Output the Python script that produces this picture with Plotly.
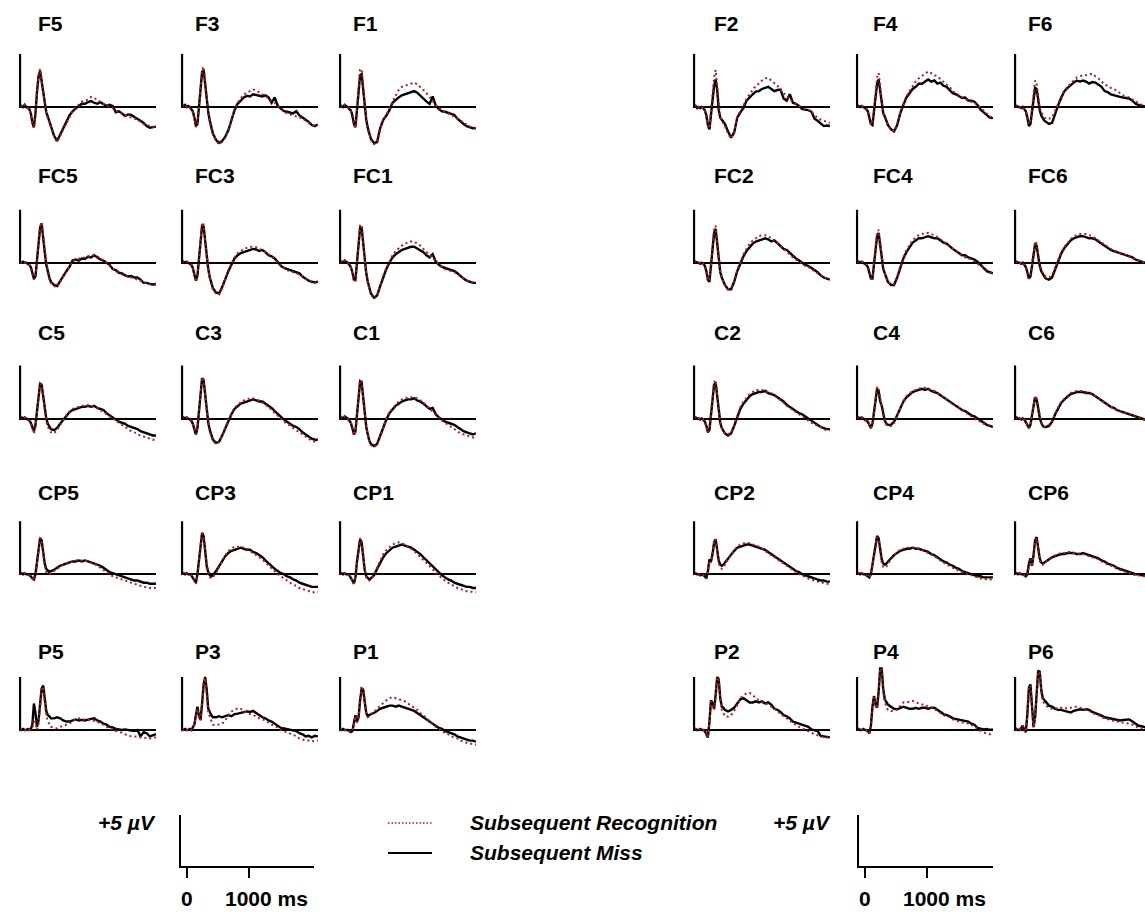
import plotly.graph_objects as go

# ---------------- time axis (ms) ----------------
T = [-100, -75, -50, -25, 0, 25, 50, 75, 100, 125, 150, 175, 200, 225, 250, 275, 300, 325, 350, 375, 400,
     450, 500, 550, 600, 650, 700, 750, 800, 850, 900, 950, 1000, 1050, 1100, 1150, 1200, 1250, 1300, 1350,
     1400, 1450, 1500, 1550, 1600, 1650, 1700, 1750, 1800, 1850, 1900, 1950, 2000, 2050, 2100]

# ---------------- amplitudes (µV), rec = Subsequent Recognition, miss = Subsequent Miss ----------------
F5_miss = [0.0, 0.1, 0.0, 0.2, 0.0, -0.1, -0.2, -0.6, -1.5, -1.9, -0.6, 1.4, 2.9, 3.4, 2.5, 1.3, 0.3, -0.5, -0.9, -1.3, -1.8,
           -2.7, -3.2, -2.6, -2.1, -1.5, -0.8, -0.4, -0.1, 0.1, 0.3, 0.3, 0.45, 0.55, 0.4, 0.3, 0.45, 0.3, 0.1, 0.2, 0.1,
           -0.5, -0.4, -0.6, -0.85, -0.7, -0.75, -0.95, -1.1, -1.3, -1.5, -1.8, -1.95, -1.9, -1.85]
F5_rec = [0.0, 0.1, 0.0, 0.2, 0.0, -0.1, -0.2, -0.7, -1.6, -2.0, -0.7, 1.4, 3.0, 3.6, 2.6, 1.3, 0.2, -0.6, -1.0, -1.4, -1.9,
          -2.8, -3.3, -2.7, -2.1, -1.5, -0.9, -0.4, 0.0, 0.2, 0.5, 0.6, 0.7, 0.95, 0.8, 0.7, 0.45, 0.3, 0.1, 0.0, -0.1,
          -0.3, -0.5, -0.6, -0.8, -0.9, -1.0, -1.1, -1.2, -1.4, -1.6, -1.7, -1.8, -1.9, -1.95]
F3_miss = [0.0, 0.1, 0.2, 0.0, 0.1, 0.0, -0.2, -0.4, -1.0, -1.8, -1.6, 0.0, 2.0, 3.3, 3.5, 2.0, 0.5, -0.5, -1.3, -2.0, -2.5,
           -3.1, -3.4, -3.2, -2.8, -2.2, -1.2, -0.3, 0.3, 0.6, 0.9, 1.05, 1.0, 1.2, 1.15, 1.05, 1.0, 1.1, 0.9, 0.4, 0.9,
           0.1, -0.2, -0.4, -0.45, -0.5, -0.6, -0.4, -0.8, -1.0, -1.2, -1.4, -1.7, -1.8, -1.65]
F3_rec = [0.0, 0.1, 0.2, 0.0, 0.1, 0.0, -0.2, -0.5, -1.1, -1.9, -1.7, 0.0, 2.1, 3.5, 3.8, 2.1, 0.5, -0.6, -1.4, -2.1, -2.6,
          -3.2, -3.5, -3.3, -2.9, -2.2, -1.1, -0.2, 0.4, 0.8, 1.2, 1.35, 1.5, 1.65, 1.55, 1.4, 1.2, 1.0, 0.8, 0.6, 0.4,
          0.1, -0.2, -0.4, -0.6, -0.7, -0.8, -0.9, -1.0, -1.1, -1.3, -1.5, -1.7, -1.75, -1.7]
F1_miss = [0.0, 0.1, 0.0, 0.2, 0.1, 0.0, -0.2, -0.3, -0.8, -1.6, -1.9, -0.2, 1.8, 3.0, 3.1, 1.6, 0.0, -1.2, -2.0, -2.6, -3.0,
           -3.4, -3.3, -2.0, -1.2, -0.8, -0.3, 0.4, 0.7, 0.9, 1.1, 1.2, 1.3, 1.35, 1.5, 1.35, 1.1, 0.8, 0.5, 0.3, 1.0,
           0.1, -0.2, -0.4, -0.45, -0.55, -0.6, -0.75, -1.1, -1.4, -1.6, -1.8, -1.9, -2.0, -2.0]
F1_rec = [0.0, 0.1, 0.0, 0.2, 0.1, 0.0, -0.2, -0.4, -0.9, -1.7, -2.0, -0.2, 2.0, 3.5, 3.6, 1.7, 0.0, -1.3, -2.1, -2.7, -3.1,
          -3.5, -3.4, -2.1, -1.2, -0.7, -0.2, 0.5, 1.0, 1.6, 1.9, 2.0, 2.1, 2.2, 2.3, 2.15, 1.9, 1.6, 1.3, 0.9, 0.55,
          0.2, -0.1, -0.3, -0.5, -0.6, -0.8, -0.9, -1.1, -1.3, -1.5, -1.7, -1.85, -1.9, -2.0]
F2_miss = [0.0, 0.1, -0.1, 0.0, -0.1, 0.0, -0.1, -0.3, -0.8, -1.7, -2.1, -0.8, 0.8, 2.0, 2.6, 1.6, -0.3, -1.0, -1.2, -1.35, -1.6,
           -2.3, -2.9, -2.4, -1.0, -0.5, -0.1, 0.6, 0.95, 1.2, 1.45, 1.5, 1.7, 1.8, 1.9, 1.7, 1.5, 1.6, 1.65, 0.8, 0.6,
           1.2, 0.4, 0.3, 0.1, -0.2, -0.25, -0.3, -0.45, -1.1, -1.3, -1.6, -1.8, -1.75, -1.8]
F2_rec = [0.0, 0.1, -0.1, 0.0, -0.1, 0.0, -0.1, -0.3, -0.8, -1.7, -2.0, -0.6, 1.2, 2.8, 3.5, 2.0, -0.1, -1.0, -1.3, -1.5, -1.8,
          -2.5, -3.0, -2.3, -0.9, -0.4, 0.1, 0.8, 1.15, 1.6, 2.0, 2.2, 2.5, 2.7, 2.75, 2.5, 2.3, 2.0, 1.6, 1.3, 1.0,
          0.8, 0.45, 0.3, 0.1, -0.1, -0.2, -0.3, -0.4, -0.8, -1.0, -1.2, -1.3, -1.4, -1.5]
F4_miss = [0.0, 0.1, 0.0, 0.1, 0.0, -0.1, -0.2, -0.4, -0.9, -1.6, -1.7, -0.5, 1.0, 2.2, 2.6, 1.5, 0.2, -0.6, -0.9, -1.3, -1.7,
           -2.1, -2.3, -1.7, -0.6, 0.2, 0.9, 1.3, 1.7, 1.9, 2.2, 2.2, 2.4, 2.6, 2.4, 2.5, 2.2, 2.3, 2.0, 1.9, 1.6,
           1.3, 1.2, 1.0, 0.85, 0.9, 0.6, 0.6, 0.5, 0.2, -0.25, -0.5, -0.8, -1.0, -1.05]
F4_rec = [0.0, 0.1, 0.0, 0.1, 0.0, -0.1, -0.2, -0.4, -0.9, -1.6, -1.6, -0.3, 1.4, 2.8, 3.2, 1.8, 0.3, -0.5, -0.9, -1.3, -1.7,
          -2.1, -2.3, -1.6, -0.5, 0.3, 1.0, 1.5, 2.0, 2.4, 2.7, 2.9, 3.1, 3.35, 3.2, 3.0, 2.9, 2.6, 2.3, 2.1, 1.9,
          1.5, 1.3, 1.1, 0.9, 0.8, 0.6, 0.5, 0.4, 0.2, -0.1, -0.4, -0.7, -0.9, -1.0]
F6_miss = [0.0, 0.1, 0.0, 0.0, -0.1, 0.0, -0.2, -0.4, -1.0, -1.8, -1.6, -0.4, 0.9, 1.8, 1.7, 0.6, -0.3, -0.8, -1.1, -1.3, -1.4,
           -1.6, -1.5, -0.6, 0.2, 0.9, 1.5, 1.8, 2.1, 2.3, 2.5, 2.4, 2.5, 2.4, 2.2, 2.35, 2.3, 2.1, 1.9, 1.5, 1.4,
           1.2, 1.1, 1.0, 0.95, 0.9, 0.85, 0.8, 0.6, 0.3, 0.2, 0.15, 0.1, 0.0, -0.1]
F6_rec = [0.0, 0.1, 0.0, 0.0, -0.1, 0.0, -0.2, -0.4, -0.9, -1.6, -1.3, 0.0, 1.5, 2.5, 2.2, 0.9, -0.1, -0.5, -0.8, -1.0, -1.1,
          -1.1, -1.0, -0.3, 0.4, 1.0, 1.6, 1.9, 2.2, 2.5, 2.8, 2.9, 3.0, 3.0, 3.1, 3.15, 2.9, 2.7, 2.4, 2.1, 2.0,
          1.8, 1.7, 1.5, 1.3, 1.1, 1.0, 0.9, 0.7, 0.5, 0.35, 0.2, 0.1, 0.0, -0.1]

FC5_miss = [0.0, 0.0, 0.1, 0.0, 0.0, -0.1, -0.2, -0.4, -0.9, -1.5, -1.3, 0.2, 2.0, 3.3, 3.7, 2.6, 1.0, -0.2, -0.9, -1.4, -1.8,
            -2.1, -2.2, -1.7, -1.3, -0.8, -0.4, 0.2, 0.3, 0.2, 0.4, 0.35, 0.55, 0.5, 0.7, 0.5, 0.3, 0.2, 0.0, -0.2, -0.6,
            -0.7, -0.95, -1.0, -1.2, -1.3, -1.25, -1.4, -1.4, -1.6, -1.9, -1.9, -2.0, -2.05, -2.0]
FC5_rec = [0.0, 0.0, 0.1, 0.0, 0.0, -0.1, -0.2, -0.4, -1.0, -1.6, -1.3, 0.2, 2.1, 3.4, 3.8, 2.6, 0.9, -0.3, -1.0, -1.5, -1.9,
           -2.2, -2.35, -1.8, -1.3, -0.8, -0.3, 0.1, 0.3, 0.35, 0.45, 0.5, 0.6, 0.7, 0.75, 0.6, 0.4, 0.2, 0.0, -0.3, -0.55,
           -0.8, -1.0, -1.1, -1.2, -1.3, -1.35, -1.45, -1.55, -1.7, -1.85, -1.95, -2.05, -2.1, -2.1]
FC3_miss = [0.0, 0.1, 0.0, 0.1, 0.0, -0.1, -0.2, -0.5, -1.1, -1.7, -1.2, 0.5, 2.3, 3.5, 3.4, 2.1, 0.5, -0.6, -1.4, -2.0, -2.4,
            -2.8, -2.9, -2.3, -1.5, -0.8, -0.2, 0.4, 0.7, 0.9, 1.0, 1.1, 1.2, 1.3, 1.25, 1.1, 1.2, 1.0, 0.7, 0.6, 0.4,
            0.0, -0.3, -0.5, -0.6, -0.7, -0.8, -0.9, -1.0, -1.3, -1.5, -1.7, -1.8, -1.85, -1.8]
FC3_rec = [0.0, 0.1, 0.0, 0.1, 0.0, -0.1, -0.2, -0.5, -1.2, -1.8, -1.2, 0.6, 2.5, 3.8, 3.6, 2.2, 0.5, -0.7, -1.5, -2.1, -2.5,
           -2.9, -3.0, -2.4, -1.5, -0.7, -0.1, 0.5, 0.9, 1.1, 1.3, 1.4, 1.5, 1.5, 1.45, 1.3, 1.2, 1.0, 0.8, 0.6, 0.3,
           0.0, -0.3, -0.5, -0.7, -0.8, -0.9, -1.0, -1.1, -1.3, -1.5, -1.7, -1.85, -1.9, -1.9]
FC1_miss = [0.0, 0.1, 0.0, 0.2, 0.1, 0.0, -0.2, -0.4, -0.9, -1.6, -1.6, 0.0, 2.0, 3.3, 3.3, 1.8, 0.2, -1.0, -1.8, -2.5, -2.9,
            -3.3, -3.1, -2.2, -1.3, -0.6, 0.0, 0.5, 0.8, 1.0, 1.2, 1.3, 1.4, 1.5, 1.5, 1.35, 1.2, 1.0, 0.7, 0.5, 0.8,
            0.1, -0.2, -0.4, -0.5, -0.6, -0.7, -0.8, -1.0, -1.3, -1.5, -1.7, -1.8, -1.9, -1.9]
FC1_rec = [0.0, 0.1, 0.0, 0.2, 0.1, 0.0, -0.2, -0.4, -1.0, -1.7, -1.7, 0.0, 2.1, 3.6, 3.5, 1.9, 0.2, -1.1, -1.9, -2.6, -3.0,
           -3.4, -3.2, -2.2, -1.2, -0.5, 0.1, 0.7, 1.1, 1.4, 1.6, 1.8, 1.9, 2.0, 2.0, 1.8, 1.6, 1.3, 1.0, 0.7, 0.4,
           0.1, -0.2, -0.4, -0.6, -0.7, -0.8, -0.9, -1.1, -1.3, -1.5, -1.7, -1.8, -1.9, -1.95]
FC2_miss = [0.0, 0.1, 0.0, 0.0, -0.1, 0.0, -0.1, -0.3, -0.8, -1.6, -1.8, -0.4, 1.3, 2.8, 3.2, 1.9, 0.0, -0.9, -1.4, -1.8, -2.1,
            -2.5, -2.5, -1.8, -0.8, -0.1, 0.6, 1.1, 1.5, 1.8, 2.0, 2.1, 2.2, 2.3, 2.2, 2.0, 2.1, 1.8, 1.6, 1.3, 1.2,
            0.9, 0.6, 0.4, 0.2, 0.0, -0.2, -0.3, -0.5, -0.7, -0.9, -1.2, -1.4, -1.5, -1.6]
FC2_rec = [0.0, 0.1, 0.0, 0.0, -0.1, 0.0, -0.1, -0.3, -0.8, -1.6, -1.7, -0.3, 1.5, 3.1, 3.5, 2.0, 0.0, -0.9, -1.4, -1.8, -2.1,
           -2.5, -2.4, -1.7, -0.7, 0.0, 0.8, 1.3, 1.8, 2.1, 2.3, 2.5, 2.6, 2.6, 2.5, 2.3, 2.1, 1.9, 1.6, 1.3, 1.1,
           0.8, 0.5, 0.3, 0.1, -0.1, -0.3, -0.4, -0.6, -0.8, -1.0, -1.2, -1.4, -1.5, -1.6]
FC4_miss = [0.0, 0.1, 0.0, 0.1, 0.0, -0.1, -0.2, -0.4, -0.9, -1.5, -1.5, -0.3, 1.2, 2.5, 2.8, 1.6, 0.2, -0.6, -1.0, -1.4, -1.8,
            -2.1, -2.1, -1.4, -0.4, 0.4, 1.0, 1.5, 1.9, 2.1, 2.3, 2.3, 2.4, 2.5, 2.4, 2.3, 2.3, 2.1, 1.9, 1.8, 1.5,
            1.3, 1.1, 0.9, 0.7, 0.7, 0.5, 0.4, 0.3, 0.1, -0.2, -0.5, -0.8, -0.9, -1.0]
FC4_rec = [0.0, 0.1, 0.0, 0.1, 0.0, -0.1, -0.2, -0.4, -0.9, -1.5, -1.4, -0.1, 1.5, 2.9, 3.1, 1.8, 0.3, -0.5, -1.0, -1.4, -1.8,
           -2.0, -2.0, -1.3, -0.3, 0.5, 1.2, 1.7, 2.1, 2.4, 2.6, 2.7, 2.8, 2.8, 2.7, 2.6, 2.4, 2.2, 2.0, 1.8, 1.5,
           1.3, 1.1, 0.9, 0.7, 0.5, 0.4, 0.3, 0.1, -0.1, -0.3, -0.5, -0.7, -0.9, -1.0]
FC6_miss = [0.0, 0.1, 0.0, 0.0, -0.1, 0.0, -0.2, -0.4, -0.9, -1.5, -1.3, -0.2, 0.9, 1.7, 1.6, 0.6, -0.3, -0.8, -1.1, -1.3, -1.5,
            -1.6, -1.4, -0.6, 0.2, 0.9, 1.4, 1.8, 2.1, 2.3, 2.4, 2.5, 2.5, 2.4, 2.3, 2.3, 2.2, 2.0, 1.8, 1.6, 1.4,
            1.2, 1.1, 1.0, 0.9, 0.8, 0.7, 0.6, 0.5, 0.3, 0.2, 0.1, 0.0, -0.1, -0.2]
FC6_rec = [0.0, 0.1, 0.0, 0.0, -0.1, 0.0, -0.2, -0.4, -0.9, -1.5, -1.2, 0.0, 1.2, 2.0, 1.8, 0.7, -0.2, -0.7, -1.0, -1.2, -1.3,
           -1.4, -1.2, -0.5, 0.3, 1.0, 1.5, 1.9, 2.2, 2.5, 2.6, 2.7, 2.7, 2.7, 2.6, 2.5, 2.3, 2.1, 1.9, 1.7, 1.5,
           1.3, 1.2, 1.0, 0.9, 0.8, 0.7, 0.6, 0.4, 0.3, 0.2, 0.1, 0.0, -0.1, -0.2]

C5_miss = [0.0, 0.1, 0.0, 0.1, 0.0, -0.1, -0.2, -0.4, -0.8, -1.2, -0.6, 0.8, 2.3, 3.3, 3.2, 2.0, 0.8, 0.0, -0.5, -0.8, -1.0,
           -1.1, -0.9, -0.5, -0.1, 0.3, 0.6, 0.8, 0.9, 1.0, 1.1, 1.1, 1.2, 1.1, 1.2, 1.0, 0.9, 0.8, 0.5, 0.3, 0.1,
           -0.1, -0.3, -0.4, -0.5, -0.7, -0.8, -0.9, -1.0, -1.2, -1.3, -1.4, -1.5, -1.6, -1.6]
C5_rec = [0.0, 0.1, 0.0, 0.1, 0.0, -0.1, -0.2, -0.5, -0.9, -1.4, -0.8, 0.6, 2.2, 3.3, 3.2, 1.9, 0.6, -0.3, -0.8, -1.1, -1.3,
          -1.4, -1.1, -0.6, -0.1, 0.3, 0.6, 0.9, 1.0, 1.1, 1.2, 1.2, 1.25, 1.2, 1.1, 1.0, 0.8, 0.6, 0.4, 0.2, 0.0,
          -0.2, -0.4, -0.6, -0.8, -1.0, -1.2, -1.3, -1.5, -1.6, -1.7, -1.8, -1.9, -2.0, -2.0]
C3_miss = [0.0, 0.1, 0.0, 0.1, 0.0, -0.1, -0.2, -0.5, -1.0, -1.5, -0.9, 0.8, 2.6, 3.8, 3.6, 2.2, 0.6, -0.4, -1.1, -1.6, -2.0,
           -2.3, -2.2, -1.6, -0.9, -0.2, 0.4, 0.9, 1.2, 1.4, 1.5, 1.6, 1.7, 1.8, 1.7, 1.6, 1.6, 1.4, 1.2, 1.0, 0.7,
           0.4, 0.1, -0.1, -0.3, -0.5, -0.7, -0.8, -1.0, -1.3, -1.5, -1.7, -1.9, -2.0, -2.0]
C3_rec = [0.0, 0.1, 0.0, 0.1, 0.0, -0.1, -0.2, -0.5, -1.0, -1.5, -0.9, 0.8, 2.6, 3.9, 3.7, 2.2, 0.6, -0.5, -1.2, -1.7, -2.1,
          -2.4, -2.2, -1.6, -0.8, -0.1, 0.5, 1.0, 1.3, 1.5, 1.7, 1.8, 1.9, 1.9, 1.8, 1.7, 1.5, 1.3, 1.1, 0.8, 0.5,
          0.2, -0.1, -0.3, -0.5, -0.7, -0.9, -1.1, -1.3, -1.5, -1.7, -1.9, -2.1, -2.2, -2.3]
C1_miss = [0.0, 0.1, 0.0, 0.2, 0.1, 0.0, -0.2, -0.4, -0.9, -1.5, -1.2, 0.4, 2.3, 3.5, 3.4, 1.9, 0.3, -0.8, -1.5, -2.1, -2.4,
           -2.6, -2.4, -1.6, -0.8, -0.1, 0.5, 0.9, 1.2, 1.4, 1.6, 1.7, 1.8, 1.8, 1.9, 1.7, 1.6, 1.4, 1.1, 0.9, 1.0,
           0.4, 0.1, -0.1, -0.3, -0.4, -0.5, -0.6, -0.8, -1.0, -1.2, -1.3, -1.4, -1.5, -1.4]
C1_rec = [0.0, 0.1, 0.0, 0.2, 0.1, 0.0, -0.2, -0.4, -0.9, -1.6, -1.3, 0.3, 2.3, 3.6, 3.5, 1.9, 0.3, -0.8, -1.6, -2.2, -2.5,
          -2.7, -2.5, -1.6, -0.8, 0.0, 0.6, 1.0, 1.3, 1.6, 1.8, 1.9, 2.0, 2.0, 2.0, 1.9, 1.7, 1.5, 1.2, 0.9, 0.6,
          0.3, 0.0, -0.2, -0.4, -0.6, -0.8, -1.0, -1.2, -1.4, -1.5, -1.6, -1.7, -1.8, -1.8]
C2_miss = [0.0, 0.1, 0.0, 0.0, -0.1, 0.0, -0.1, -0.3, -0.7, -1.3, -1.1, 0.3, 2.0, 3.2, 3.4, 2.0, 0.4, -0.4, -0.9, -1.2, -1.4,
           -1.6, -1.4, -0.7, 0.2, 0.9, 1.4, 1.8, 2.1, 2.3, 2.4, 2.5, 2.5, 2.6, 2.4, 2.3, 2.2, 2.0, 1.8, 1.6, 1.3,
           1.1, 0.9, 0.7, 0.5, 0.4, 0.2, 0.0, -0.2, -0.4, -0.6, -0.8, -0.9, -1.0, -1.0]
C2_rec = [0.0, 0.1, 0.0, 0.0, -0.1, 0.0, -0.1, -0.3, -0.7, -1.3, -1.0, 0.4, 2.1, 3.4, 3.6, 2.1, 0.4, -0.4, -0.9, -1.2, -1.4,
          -1.5, -1.3, -0.6, 0.3, 1.1, 1.6, 2.0, 2.3, 2.5, 2.7, 2.7, 2.7, 2.6, 2.5, 2.4, 2.2, 2.0, 1.7, 1.5, 1.2,
          1.0, 0.8, 0.6, 0.4, 0.2, 0.0, -0.2, -0.4, -0.5, -0.7, -0.8, -1.0, -1.1, -1.1]
C4_miss = [0.0, 0.1, 0.0, 0.1, 0.0, -0.1, -0.2, -0.3, -0.6, -0.9, -0.5, 0.7, 2.0, 2.8, 2.6, 1.6, 1.2, 0.4, -0.2, -0.5, -0.6,
           -0.6, -0.3, 0.3, 1.0, 1.6, 2.0, 2.3, 2.5, 2.6, 2.7, 2.8, 2.7, 2.8, 2.6, 2.5, 2.4, 2.2, 2.0, 1.8, 1.6,
           1.4, 1.2, 1.0, 0.8, 0.7, 0.5, 0.3, 0.2, 0.0, -0.2, -0.4, -0.6, -0.7, -0.8]
C4_rec = [0.0, 0.1, 0.0, 0.1, 0.0, -0.1, -0.2, -0.3, -0.6, -0.9, -0.4, 0.8, 2.1, 3.0, 2.8, 1.7, 1.1, 0.3, -0.3, -0.6, -0.7,
          -0.7, -0.4, 0.3, 1.0, 1.6, 2.1, 2.4, 2.6, 2.7, 2.8, 2.9, 2.9, 2.8, 2.7, 2.6, 2.4, 2.2, 2.0, 1.8, 1.6,
          1.4, 1.2, 1.0, 0.8, 0.6, 0.4, 0.2, 0.0, -0.2, -0.3, -0.5, -0.6, -0.7, -0.8]
C6_miss = [0.0, 0.1, 0.0, 0.0, -0.1, 0.0, -0.1, -0.3, -0.6, -0.9, -0.6, 0.3, 1.3, 2.0, 1.8, 0.9, 0.1, -0.4, -0.7, -0.8, -0.8,
           -0.7, -0.3, 0.4, 1.0, 1.5, 1.8, 2.1, 2.3, 2.4, 2.5, 2.5, 2.5, 2.4, 2.4, 2.3, 2.1, 1.9, 1.7, 1.5, 1.3,
           1.1, 1.0, 0.8, 0.7, 0.6, 0.5, 0.4, 0.3, 0.2, 0.1, 0.0, -0.1, -0.2, -0.3]
C6_rec = [0.0, 0.1, 0.0, 0.0, -0.1, 0.0, -0.1, -0.3, -0.6, -0.9, -0.5, 0.4, 1.4, 2.1, 1.9, 1.0, 0.1, -0.4, -0.7, -0.8, -0.8,
          -0.6, -0.2, 0.5, 1.1, 1.6, 1.9, 2.2, 2.4, 2.5, 2.6, 2.6, 2.6, 2.5, 2.4, 2.3, 2.1, 1.9, 1.7, 1.5, 1.3,
          1.1, 0.9, 0.8, 0.7, 0.6, 0.5, 0.4, 0.3, 0.2, 0.1, 0.0, -0.1, -0.2, -0.3]

CP5_miss = [0.0, 0.1, 0.0, 0.1, 0.0, 0.0, -0.1, -0.2, -0.4, -0.5, 0.0, 1.2, 2.5, 3.4, 3.2, 2.0, 1.0, 0.5, 0.3, 0.2, 0.3,
            0.4, 0.6, 0.8, 0.9, 1.0, 1.1, 1.2, 1.2, 1.3, 1.2, 1.3, 1.2, 1.1, 1.0, 0.9, 0.8, 0.6, 0.4, 0.2, 0.1,
            0.0, -0.1, -0.2, -0.3, -0.4, -0.5, -0.6, -0.6, -0.7, -0.8, -0.8, -0.9, -0.9, -0.9]
CP5_rec = [0.0, 0.1, 0.0, 0.1, 0.0, 0.0, -0.1, -0.2, -0.4, -0.6, -0.1, 1.1, 2.4, 3.4, 3.3, 1.9, 0.8, 0.2, 0.0, 0.0, 0.1,
           0.3, 0.5, 0.7, 0.9, 1.0, 1.1, 1.2, 1.3, 1.3, 1.3, 1.3, 1.2, 1.1, 1.0, 0.8, 0.6, 0.4, 0.2, 0.0, -0.2,
           -0.3, -0.4, -0.5, -0.6, -0.7, -0.8, -0.9, -1.0, -1.1, -1.2, -1.2, -1.3, -1.3, -1.3]
CP3_miss = [0.0, 0.1, 0.0, 0.1, 0.0, 0.0, -0.1, -0.3, -0.6, -0.8, 0.0, 1.5, 3.0, 3.9, 3.6, 2.1, 0.8, 0.2, -0.1, -0.2, -0.1,
            0.3, 0.8, 1.3, 1.7, 2.0, 2.2, 2.3, 2.4, 2.5, 2.4, 2.3, 2.3, 2.1, 2.0, 1.8, 1.6, 1.3, 1.0, 0.8, 0.5,
            0.3, 0.1, 0.0, -0.2, -0.3, -0.5, -0.6, -0.8, -0.9, -1.0, -1.1, -1.2, -1.2, -1.2]
CP3_rec = [0.0, 0.1, 0.0, 0.1, 0.0, 0.0, -0.1, -0.3, -0.6, -0.9, -0.1, 1.4, 2.9, 3.8, 3.6, 2.0, 0.6, 0.0, -0.3, -0.4, -0.3,
           0.1, 0.7, 1.3, 1.8, 2.2, 2.4, 2.6, 2.6, 2.6, 2.5, 2.4, 2.2, 2.0, 1.8, 1.6, 1.4, 1.1, 0.8, 0.5, 0.2,
           0.0, -0.2, -0.4, -0.6, -0.8, -1.0, -1.1, -1.3, -1.4, -1.5, -1.6, -1.7, -1.7, -1.7]
CP1_miss = [0.0, 0.1, 0.0, 0.1, 0.0, 0.0, -0.1, -0.3, -0.6, -0.9, -0.3, 1.2, 2.5, 3.3, 3.0, 1.6, 0.4, -0.2, -0.4, -0.5, -0.4,
            -0.1, 0.5, 1.1, 1.6, 2.0, 2.3, 2.5, 2.6, 2.7, 2.8, 2.7, 2.6, 2.5, 2.3, 2.1, 1.9, 1.6, 1.3, 1.0, 0.7,
            0.4, 0.1, -0.1, -0.3, -0.5, -0.6, -0.8, -0.9, -1.0, -1.1, -1.2, -1.2, -1.3, -1.3]
CP1_rec = [0.0, 0.1, 0.0, 0.1, 0.0, 0.0, -0.1, -0.3, -0.6, -0.9, -0.3, 1.1, 2.5, 3.4, 3.1, 1.6, 0.4, -0.3, -0.5, -0.6, -0.5,
           -0.1, 0.6, 1.3, 1.9, 2.3, 2.6, 2.8, 2.9, 3.0, 2.9, 2.8, 2.6, 2.4, 2.2, 1.9, 1.6, 1.3, 1.0, 0.7, 0.4,
           0.1, -0.2, -0.4, -0.6, -0.8, -1.0, -1.1, -1.3, -1.4, -1.5, -1.6, -1.6, -1.7, -1.7]
CP2_miss = [0.0, 0.1, 0.0, 0.0, -0.1, 0.0, -0.1, -0.2, -0.4, 0.3, 1.4, 1.2, 1.9, 3.0, 3.3, 2.3, 1.3, 0.9, 0.8, 0.9, 1.1,
            1.5, 1.9, 2.2, 2.5, 2.6, 2.7, 2.8, 2.8, 2.7, 2.6, 2.5, 2.4, 2.3, 2.1, 1.9, 1.7, 1.5, 1.3, 1.1, 0.9,
            0.7, 0.5, 0.3, 0.2, 0.0, -0.1, -0.2, -0.3, -0.4, -0.5, -0.6, -0.6, -0.7, -0.7]
CP2_rec = [0.0, 0.1, 0.0, 0.0, -0.1, 0.0, -0.1, -0.2, -0.4, 0.2, 1.3, 1.1, 1.8, 3.0, 3.3, 2.2, 1.1, 0.6, 0.5, 0.6, 0.9,
           1.4, 1.9, 2.3, 2.6, 2.8, 2.9, 3.0, 2.9, 2.8, 2.7, 2.6, 2.4, 2.2, 2.0, 1.8, 1.6, 1.4, 1.2, 1.0, 0.8,
           0.6, 0.4, 0.2, 0.0, -0.1, -0.3, -0.4, -0.5, -0.6, -0.7, -0.8, -0.8, -0.9, -0.9]
CP4_miss = [0.0, 0.1, 0.0, 0.1, 0.0, 0.0, -0.1, -0.2, -0.3, 0.0, 0.9, 1.6, 2.6, 3.6, 3.4, 2.3, 1.4, 1.0, 0.9, 1.0, 1.2,
            1.5, 1.8, 2.0, 2.2, 2.3, 2.4, 2.4, 2.5, 2.4, 2.4, 2.3, 2.2, 2.1, 1.9, 1.8, 1.6, 1.4, 1.2, 1.1, 0.9,
            0.8, 0.6, 0.5, 0.3, 0.2, 0.1, 0.0, -0.1, -0.2, -0.2, -0.3, -0.3, -0.3, -0.3]
CP4_rec = [0.0, 0.1, 0.0, 0.1, 0.0, 0.0, -0.1, -0.2, -0.3, 0.0, 0.8, 1.5, 2.5, 3.5, 3.3, 2.1, 1.1, 0.7, 0.6, 0.7, 1.0,
           1.4, 1.8, 2.1, 2.3, 2.4, 2.5, 2.5, 2.5, 2.5, 2.4, 2.3, 2.2, 2.0, 1.9, 1.7, 1.5, 1.3, 1.1, 0.9, 0.8,
           0.6, 0.5, 0.3, 0.2, 0.1, 0.0, -0.1, -0.2, -0.3, -0.4, -0.4, -0.5, -0.5, -0.5]
CP6_miss = [0.0, 0.1, 0.0, 0.1, 0.0, 0.0, -0.1, -0.2, 0.0, 1.0, 1.5, 0.8, 1.8, 3.2, 3.5, 2.4, 1.5, 1.1, 1.0, 1.1, 1.2,
            1.4, 1.6, 1.7, 1.8, 1.9, 1.9, 2.0, 2.0, 2.0, 1.9, 1.9, 2.0, 1.9, 1.8, 1.7, 1.6, 1.5, 1.3, 1.2, 1.0,
            0.9, 0.8, 0.6, 0.5, 0.4, 0.3, 0.2, 0.1, 0.0, 0.0, -0.1, -0.1, -0.2, -0.2]
CP6_rec = [0.0, 0.1, 0.0, 0.1, 0.0, 0.0, -0.1, -0.2, 0.0, 0.9, 1.4, 0.7, 1.7, 3.1, 3.4, 2.2, 1.3, 0.9, 0.9, 1.0, 1.2,
           1.4, 1.6, 1.8, 1.9, 2.0, 2.0, 2.1, 2.1, 2.0, 2.0, 1.9, 1.9, 1.8, 1.7, 1.6, 1.5, 1.4, 1.2, 1.1, 0.9,
           0.8, 0.7, 0.5, 0.4, 0.3, 0.2, 0.1, 0.0, -0.1, -0.1, -0.2, -0.2, -0.3, -0.3]

P5_miss = [0.0, 0.0, 0.1, 0.0, 0.0, 0.1, 0.0, 0.1, 0.5, 2.5, 1.6, 0.3, 0.9, 2.6, 3.9, 4.2, 3.0, 1.8, 1.4, 1.3, 1.1,
           1.1, 1.2, 1.1, 0.9, 0.8, 0.8, 0.9, 1.0, 0.9, 0.95, 0.9, 1.0, 1.05, 1.1, 0.9, 0.8, 0.6, 0.5, 0.3, 0.25,
           0.1, 0.05, 0.0, 0.05, 0.0, 0.0, -0.1, 0.0, -0.6, -0.2, -0.3, -0.6, -0.5, -0.4]
P5_rec = [0.0, 0.0, 0.1, 0.0, 0.0, 0.1, 0.0, 0.0, 0.2, 1.0, 0.8, 0.0, 0.6, 2.3, 3.7, 4.1, 2.8, 1.4, 0.8, 0.5, 0.3,
          0.2, 0.15, 0.3, 0.4, 0.45, 0.6, 0.8, 1.0, 1.1, 1.0, 1.0, 0.95, 0.9, 0.9, 0.8, 0.6, 0.5, 0.3, 0.15, 0.0,
          -0.1, -0.15, -0.3, -0.4, -0.5, -0.6, -0.6, -0.65, -0.7, -0.75, -0.8, -0.8, -0.7, -0.7]
P3_miss = [0.0, 0.0, 0.1, 0.0, 0.0, 0.1, 0.0, 0.2, 0.5, 1.4, 2.2, 1.3, 1.0, 2.5, 4.3, 5.0, 3.8, 2.0, 1.6, 1.4, 1.2,
           1.2, 1.3, 1.2, 1.3, 1.4, 1.3, 1.5, 1.55, 1.6, 1.7, 1.75, 1.7, 1.8, 1.6, 1.4, 1.2, 1.1, 0.9, 0.8, 0.6,
           0.4, 0.2, 0.15, 0.1, 0.0, 0.0, -0.1, -0.3, -0.4, -0.6, -0.55, -0.7, -0.55, -0.6]
P3_rec = [0.0, 0.0, 0.1, 0.0, 0.0, 0.1, 0.0, 0.2, 0.5, 1.3, 2.0, 1.2, 0.9, 2.3, 4.1, 4.9, 3.6, 1.7, 1.25, 0.8, 0.5,
          0.45, 0.5, 0.6, 0.9, 1.4, 1.75, 1.9, 2.05, 2.0, 1.8, 1.6, 1.5, 1.4, 1.3, 1.1, 1.0, 0.9, 0.7, 0.5, 0.4,
          0.2, 0.0, -0.1, -0.2, -0.3, -0.45, -0.6, -0.8, -0.9, -1.0, -1.0, -1.1, -1.0, -1.0]
P1_miss = [0.0, 0.0, 0.1, 0.0, 0.0, 0.0, -0.1, -0.2, -0.1, 0.6, 1.4, 0.8, 1.2, 2.8, 3.9, 3.8, 2.5, 1.6, 1.3, 1.4, 1.5,
           1.6, 1.8, 2.0, 2.1, 2.2, 2.3, 2.3, 2.2, 2.3, 2.2, 2.1, 2.0, 1.9, 1.8, 1.6, 1.4, 1.2, 1.0, 0.8, 0.6,
           0.4, 0.2, 0.1, -0.1, -0.2, -0.3, -0.4, -0.6, -0.7, -0.8, -0.9, -1.0, -1.0, -1.1]
P1_rec = [0.0, 0.0, 0.1, 0.0, 0.0, 0.0, -0.1, -0.2, -0.1, 0.5, 1.3, 0.7, 1.1, 2.7, 3.9, 3.9, 2.5, 1.5, 1.2, 1.3, 1.5,
          1.7, 2.0, 2.3, 2.6, 2.8, 3.0, 3.1, 3.0, 2.9, 2.8, 2.7, 2.5, 2.3, 2.1, 1.9, 1.6, 1.4, 1.1, 0.8, 0.6,
          0.3, 0.1, -0.1, -0.3, -0.4, -0.6, -0.7, -0.8, -1.0, -1.1, -1.2, -1.3, -1.3, -1.4]
P2_miss = [0.0, 0.1, 0.0, 0.0, 0.1, 0.0, 0.0, -0.1, -0.4, -0.7, 0.8, 2.8, 2.5, 2.0, 3.3, 5.0, 4.8, 3.0, 2.2, 2.1, 1.9,
           1.75, 1.9, 2.1, 2.5, 2.9, 3.0, 2.8, 2.6, 2.6, 2.7, 2.6, 2.7, 2.5, 2.6, 2.4, 2.0, 1.9, 1.7, 1.4, 1.3,
           1.1, 0.8, 0.7, 0.6, 0.45, 0.4, 0.3, 0.05, 0.0, -0.1, -0.55, -0.6, -0.7, -0.7]
P2_rec = [0.0, 0.1, 0.0, 0.0, 0.1, 0.0, 0.0, -0.1, -0.4, -0.7, 0.7, 2.7, 2.4, 1.9, 3.2, 5.0, 4.7, 2.8, 1.9, 1.6, 1.3,
          1.25, 1.4, 1.8, 2.4, 3.0, 3.3, 3.45, 3.5, 3.3, 3.0, 2.8, 2.6, 2.5, 2.4, 2.2, 2.0, 1.8, 1.5, 1.3, 1.1,
          0.9, 0.6, 0.5, 0.3, 0.15, 0.0, -0.1, -0.3, -0.4, -0.5, -0.6, -0.7, -0.7, -0.8]
P4_miss = [0.0, 0.1, 0.0, 0.0, 0.1, 0.0, 0.0, -0.1, -0.3, 0.4, 2.2, 3.2, 2.4, 2.1, 3.6, 5.8, 5.8, 3.8, 2.9, 2.6, 2.4,
           2.2, 2.0, 1.95, 2.1, 2.2, 2.1, 2.0, 2.0, 2.1, 2.0, 2.1, 2.1, 2.0, 2.1, 2.1, 1.9, 1.7, 1.5, 1.4, 1.3,
           1.1, 1.05, 1.0, 0.9, 0.85, 0.8, 0.6, 0.5, 0.2, 0.1, 0.05, 0.1, 0.0, 0.05]
P4_rec = [0.0, 0.1, 0.0, 0.0, 0.1, 0.0, 0.0, -0.1, -0.3, 0.4, 2.1, 3.1, 2.3, 2.0, 3.5, 5.8, 5.7, 3.6, 2.6, 2.2, 1.9,
          1.8, 1.8, 1.95, 2.3, 2.6, 2.6, 2.7, 2.75, 2.6, 2.5, 2.4, 2.4, 2.2, 2.1, 2.0, 1.8, 1.6, 1.4, 1.3, 1.2,
          1.0, 0.9, 0.8, 0.7, 0.7, 0.6, 0.5, 0.3, 0.1, -0.1, -0.25, -0.3, -0.4, -0.5]
P6_miss = [0.0, 0.1, 0.0, 0.0, 0.2, 0.4, 0.0, -0.2, 1.5, 4.0, 4.3, 2.0, 0.3, 1.2, 4.0, 5.6, 5.5, 3.8, 3.0, 2.8, 2.6,
           2.3, 2.2, 2.0, 1.9, 1.9, 1.8, 1.7, 1.65, 1.8, 1.9, 1.95, 1.9, 1.95, 1.9, 1.7, 1.6, 1.5, 1.35, 1.2, 1.15,
           1.1, 1.0, 0.95, 0.9, 0.95, 1.0, 1.0, 0.8, 0.6, 0.4, 0.35, 0.3, 0.2, 0.1]
P6_rec = [0.0, 0.1, 0.0, 0.0, 0.2, 0.4, 0.0, -0.2, 1.4, 3.9, 4.2, 1.9, 0.2, 1.1, 3.9, 5.5, 5.4, 3.6, 2.7, 2.5, 2.3,
          2.1, 2.0, 2.0, 2.1, 2.1, 2.0, 2.1, 2.1, 2.2, 2.2, 2.1, 2.0, 1.9, 1.8, 1.6, 1.5, 1.4, 1.2, 1.1, 1.0,
          0.9, 0.85, 0.8, 0.75, 0.7, 0.7, 0.6, 0.5, 0.35, 0.2, 0.15, 0.1, 0.0, -0.1]

ROWS = [["F5", "F3", "F1", "F2", "F4", "F6"],
        ["FC5", "FC3", "FC1", "FC2", "FC4", "FC6"],
        ["C5", "C3", "C1", "C2", "C4", "C6"],
        ["CP5", "CP3", "CP1", "CP2", "CP4", "CP6"],
        ["P5", "P3", "P1", "P2", "P4", "P6"]]

SCALE_TICKS = [0, 1000]
SCALE_UV = 5
LEGEND_LABELS = ["Subsequent Recognition", "Subsequent Miss"]

g = globals()
DATA = {name: (g[name + "_rec"], g[name + "_miss"]) for row in ROWS for name in row}
for name, (rec, miss) in DATA.items():
    assert len(rec) == len(T) and len(miss) == len(T), name

# ---------------- layout geometry (pixels) ----------------
W, H = 1145, 912
FONT = "Liberation Sans, Arial, sans-serif"
RED = "#b01c1c"
DOTS = "2px,3px"
PXMS = 61.8 / 1000.0     # px per ms
PXUV = 10.6              # px per µV
YMIN, YMAX = -4.5, 7.0
COL_X = [20, 182, 340, 694, 857, 1015]
TITLE_X = [36, 193, 351, 712, 871, 1026]
BASE_Y = [107, 262.7, 418.5, 574.2, 730]
TITLE_Y = [23, 175, 333, 492, 651]

fig = go.Figure()
layout = dict(width=W, height=H, margin=dict(l=0, r=0, t=0, b=0),
              paper_bgcolor="white", plot_bgcolor="white", showlegend=False)
shapes, annotations = [], []

k = 0
for r, row in enumerate(ROWS):
    for c, name in enumerate(row):
        k += 1
        ax = "" if k == 1 else str(k)
        x0px = COL_X[c] - 20 * PXMS
        x1px = min(COL_X[c] + 2200 * PXMS, W)
        xmax = -100 + (x1px - COL_X[c]) / PXMS
        ytop = BASE_Y[r] - YMAX * PXUV
        ybot = BASE_Y[r] - YMIN * PXUV
        layout["xaxis" + ax] = dict(domain=[x0px / W, x1px / W], range=[-120, xmax], visible=False,
                                    anchor="y" + ax, fixedrange=True)
        layout["yaxis" + ax] = dict(domain=[1 - ybot / H, 1 - ytop / H], range=[YMIN, YMAX], anchor="x" + ax,
                                    showgrid=False, showticklabels=False, ticks="", showline=False,
                                    zeroline=True, zerolinecolor="black", zerolinewidth=2.3, fixedrange=True)
        rec, miss = DATA[name]
        fig.add_trace(go.Scatter(x=T, y=miss, xaxis="x" + ax, yaxis="y" + ax, mode="lines",
                                 line=dict(color="black", width=2.4), hoverinfo="skip"))
        fig.add_trace(go.Scatter(x=T, y=rec, xaxis="x" + ax, yaxis="y" + ax, mode="lines",
                                 line=dict(color=RED, width=2, dash=DOTS), hoverinfo="skip"))
        shapes.append(dict(type="line", xref="x" + ax, yref="y" + ax, x0=-100, x1=-100, y0=0, y1=SCALE_UV,
                           line=dict(color="black", width=2.3)))
        annotations.append(dict(text="<b>%s</b>" % name, xref="paper", yref="paper",
                                x=TITLE_X[c] / W, y=1 - TITLE_Y[r] / H, xanchor="left", yanchor="middle",
                                showarrow=False, font=dict(size=21, color="black", family=FONT)))

# ---------------- scale bars ----------------
bars = [dict(x0=181, x1=314, t0=187.3, lab_right=158), dict(x0=859, x1=993, t0=865, lab_right=833)]
for b in bars:
    k += 1
    ax = str(k)
    rng = [(b["x0"] - b["t0"]) / PXMS, (b["x1"] - b["t0"]) / PXMS]
    layout["xaxis" + ax] = dict(domain=[b["x0"] / W, b["x1"] / W], range=rng, anchor="y" + ax,
                                showline=True, linecolor="black", linewidth=2.3, showgrid=False, zeroline=False,
                                ticks="outside", ticklen=10, tickwidth=2.3, tickcolor="black",
                                tickvals=SCALE_TICKS, showticklabels=False, fixedrange=True)
    layout["yaxis" + ax] = dict(domain=[1 - 866 / H, 1 - 815 / H], range=[0, SCALE_UV], anchor="x" + ax,
                                showline=True, linecolor="black", linewidth=2.3, showgrid=False, zeroline=False,
                                ticks="", showticklabels=False, fixedrange=True)
    annotations.append(dict(text="<b>0</b>", xref="x" + ax, yref="paper", x=SCALE_TICKS[0], y=1 - 898 / H,
                            xanchor="center", yanchor="middle", showarrow=False,
                            font=dict(size=21, color="black", family=FONT)))
    annotations.append(dict(text="<b>%d ms</b>" % SCALE_TICKS[1], xref="x" + ax, yref="paper",
                            x=SCALE_TICKS[1], y=1 - 898 / H, xanchor="left", xshift=-26, yanchor="middle",
                            showarrow=False, font=dict(size=21, color="black", family=FONT)))
    annotations.append(dict(text="<b><i>+%d µV</i></b>" % SCALE_UV, xref="paper", yref="paper",
                            x=b["lab_right"] / W, y=1 - 822 / H, xanchor="right", yanchor="middle",
                            showarrow=False, font=dict(size=21, color="black", family=FONT)))

# ---------------- legend (key lines on hidden axes + labels) ----------------
k += 1
ax = str(k)
layout["xaxis" + ax] = dict(domain=[388 / W, 432 / W], range=[0, 1], visible=False, anchor="y" + ax)
layout["yaxis" + ax] = dict(domain=[1 - 868 / H, 1 - 808 / H], range=[-0.5, 1.5], visible=False, anchor="x" + ax)
fig.add_trace(go.Scatter(x=[0, 1], y=[1, 1], xaxis="x" + ax, yaxis="y" + ax, mode="lines",
                         line=dict(color=RED, width=1.6, dash="1.5px,2px"), hoverinfo="skip"))
fig.add_trace(go.Scatter(x=[0, 1], y=[0, 0], xaxis="x" + ax, yaxis="y" + ax, mode="lines",
                         line=dict(color="black", width=2), hoverinfo="skip"))
for i, lab in enumerate(LEGEND_LABELS):
    annotations.append(dict(text="<b><i>%s</i></b>" % lab, xref="paper", yref="paper",
                            x=468 / W, y=1 - (822 + 30 * i) / H, xanchor="left", yanchor="middle",
                            showarrow=False, font=dict(size=21, color="black", family=FONT)))

layout["shapes"] = shapes
layout["annotations"] = annotations
fig.update_layout(**layout)
fig.write_html("out.html", config={"displayModeBar": False})
